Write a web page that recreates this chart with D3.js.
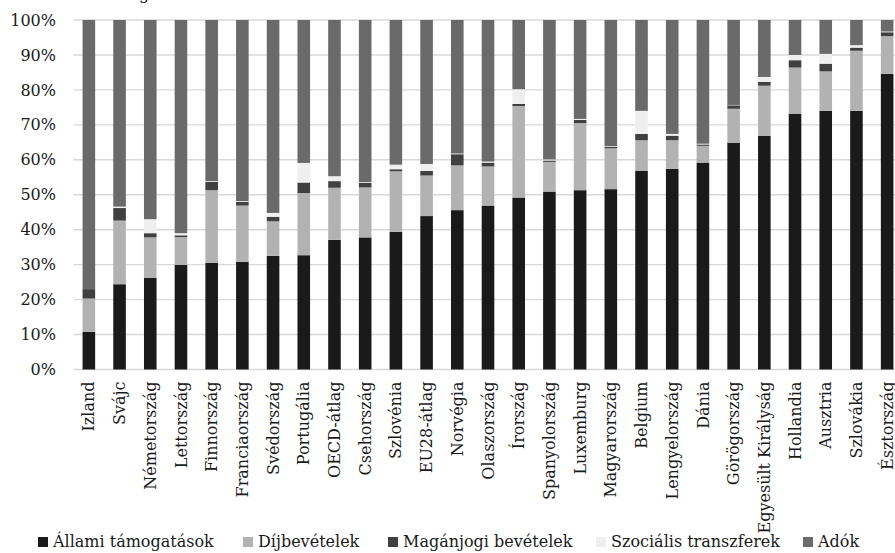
<!DOCTYPE html>
<html>
<head>
<meta charset="utf-8">
<script src="https://cdn.jsdelivr.net/npm/d3@7"></script>
<style>
  html, body { margin: 0; padding: 0; background: #fff; }
  svg { display: block; }
  text { font-family: "DejaVu Serif", "Liberation Serif", serif; fill: #1a1a1a; }
</style>
</head>
<body>
<svg id="chart" width="895" height="553"></svg>
<script>
// ---- data (percent shares) ----
const categories = ["Izland","Svájc","Németország","Lettország","Finnország","Franciaország","Svédország","Portugália","OECD-átlag","Csehország","Szlovénia","EU28-átlag","Norvégia","Olaszország","Írország","Spanyolország","Luxemburg","Magyarország","Belgium","Lengyelország","Dánia","Görögország","Egyesült Királyság","Hollandia","Ausztria","Szlovákia","Észtország"];
const seriesNames = ["Állami támogatások","Díjbevételek","Magánjogi bevételek","Szociális transzferek","Adók"];
const allamiTamogatasok   = [10.8,24.4,26.2,29.9,30.5,30.8,32.5,32.7,37.1,37.8,39.4,43.9,45.6,46.9,49.2,50.9,51.3,51.6,56.8,57.4,59.2,64.9,66.9,73.2,74.0,74.0,84.6];
const dijbevetelek        = [9.5,18.2,11.6,8.0,20.8,16.1,9.9,17.8,14.9,14.3,17.3,11.6,12.8,11.2,26.2,8.5,19.2,11.7,8.8,8.2,4.8,9.7,14.3,13.2,11.3,17.2,10.8];
const maganjogiBevetelek  = [2.7,3.6,1.2,0.5,2.4,1.1,1.3,3.0,1.9,1.3,0.6,1.3,3.2,1.1,0.6,0.4,0.9,0.4,1.8,1.3,0.4,1.0,1.1,2.1,2.2,0.9,1.1];
const szocialisTranszfer  = [0.0,0.4,4.0,0.6,0.2,0.2,1.1,5.6,1.4,0.2,1.3,2.0,0.2,0.3,4.2,0.3,0.3,0.2,6.6,0.5,0.2,0.1,1.4,1.5,2.8,0.7,0.2];
const adok                = [77.0,53.4,57.0,61.0,46.1,51.8,55.2,40.9,44.7,46.4,41.4,41.2,38.2,40.5,19.8,39.9,28.3,36.1,26.0,32.6,35.4,24.3,16.3,10.0,9.7,7.2,3.3];
const yTicks = [0,10,20,30,40,50,60,70,80,90,100];

const colors = ["#1a1a1a","#b2b2b2","#404040","#efefef","#6a6a6a"];
const seriesValues = [allamiTamogatasok, dijbevetelek, maganjogiBevetelek, szocialisTranszfer, adok];

const rows = categories.map((c, i) => {
  const r = { cat: c };
  seriesNames.forEach((s, k) => r[s] = seriesValues[k][i]);
  return r;
});
const stack = d3.stack().keys(seriesNames).offset(d3.stackOffsetExpand);
const stacked = stack(rows);

const svg = d3.select("#chart");
const plotLeft = 73.5, plotRight = 902.5, plotTop = 20, plotBottom = 369.5;

const x = d3.scaleBand().domain(categories).range([plotLeft, plotRight]).paddingInner(0.59).paddingOuter(0.295);
const y = d3.scaleLinear().domain([0, 1]).range([plotBottom, plotTop]);

// cut-off title fragment
svg.append("text").attr("x", 139).attr("y", -1).attr("font-size", 16).text("g");

// gridlines
svg.append("g").selectAll("line").data(yTicks).join("line")
  .attr("x1", plotLeft).attr("x2", 895)
  .attr("y1", d => y(d/100)).attr("y2", d => y(d/100))
  .attr("stroke", "#d9d9d9").attr("stroke-width", 1.4);

// y axis labels
const yAxis = d3.axisLeft(y).tickValues(yTicks.map(d => d/100)).tickFormat(d => Math.round(d*100) + "%").tickSize(0).tickPadding(0);
const gy = svg.append("g").attr("transform", `translate(56,0)`).call(yAxis);
gy.select(".domain").remove();
gy.selectAll("text").attr("font-size", 16).attr("font-family", "DejaVu Serif").attr("fill", "#1a1a1a");

// bars
svg.append("g").selectAll("g").data(stacked).join("g")
  .attr("fill", (d, i) => colors[i])
  .selectAll("rect").data(d => d).join("rect")
  .attr("x", d => x(d.data.cat))
  .attr("width", x.bandwidth())
  .attr("y", d => y(d[1]))
  .attr("height", d => Math.max(0, y(d[0]) - y(d[1])));

// x axis labels
const xAxis = d3.axisBottom(x).tickSize(0).tickPadding(0);
const gx = svg.append("g").attr("transform", `translate(0,${plotBottom})`).call(xAxis);
gx.select(".domain").remove();
gx.selectAll("text")
  .attr("font-size", 16).attr("font-family", "DejaVu Serif").attr("fill", "#1a1a1a")
  .attr("text-anchor", "end")
  .attr("transform", "rotate(-90)")
  .attr("x", -12).attr("y", 0).attr("dy", "0.35em");

// legend
const legendX = [38, 243, 388, 596, 803];
const lg = svg.append("g").selectAll("g").data(seriesNames).join("g")
  .attr("transform", (d, i) => `translate(${legendX[i]},537)`);
lg.append("rect").attr("width", 10).attr("height", 10).attr("fill", (d, i) => colors[i]);
lg.append("text").attr("x", 15).attr("y", 10).attr("font-size", 16).text(d => d);
</script>
</body>
</html>
